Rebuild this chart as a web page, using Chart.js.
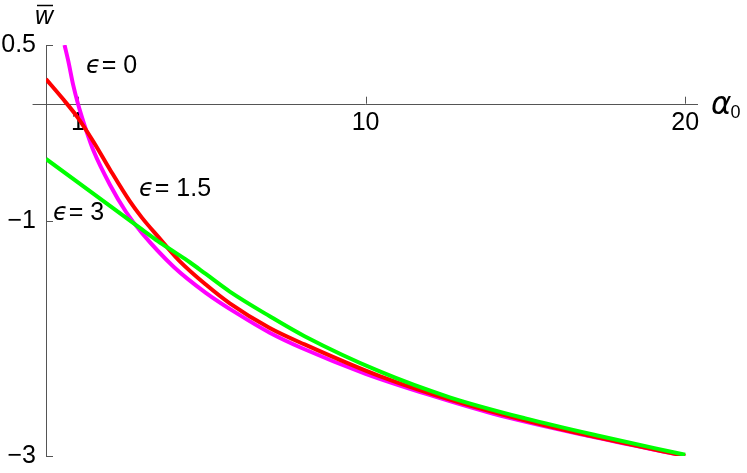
<!DOCTYPE html>
<html>
<head>
<meta charset="utf-8">
<script src="https://cdn.jsdelivr.net/npm/chart.js@4.4.0/dist/chart.umd.min.js"></script>
<style>
  html, body { margin: 0; padding: 0; background: #fff; }
  #wrap { width: 747px; height: 473px; }
</style>
</head>
<body>
<div id="wrap"><canvas id="chart"></canvas></div>
<script>
// tick labels
const xTicks = [1, 10, 20];
const yTicks = [0.5, -1, -3];
const yTickLabels = ['0.5', '\u22121', '\u22123'];

// eps = 0 (magenta)
const alpha0 = [0.58, 0.7, 0.85, 1, 1.25, 1.5, 2, 2.5, 3, 4, 5, 6, 7, 8, 10, 12, 14, 17, 20];
const w0 = [0.50, 0.36, 0.16, 0, -0.22, -0.41, -0.69, -0.92, -1.10, -1.39, -1.61, -1.79, -1.95, -2.08, -2.30, -2.48, -2.64, -2.83, -3.00];

// eps = 1.5 (red)
const alpha15 = [0, 0.5, 1, 1.5, 2, 2.62, 3, 3.5, 4.18, 5, 5.75, 7, 8.09, 10.44, 13, 16, 20];
const w15 = [0.21, 0.05, -0.12, -0.33, -0.56, -0.83, -0.97, -1.13, -1.34, -1.54, -1.70, -1.91, -2.05, -2.32, -2.55, -2.765, -3.00];

// eps = 3 (green)
const alpha3 = [0, 1, 2, 3, 3.5, 4, 4.5, 5, 5.75, 7, 8.09, 10.44, 12.63, 15, 17.32, 20];
const w3 = [-0.47, -0.67, -0.87, -1.07, -1.17, -1.26, -1.35, -1.45, -1.60, -1.81, -1.98, -2.28, -2.50, -2.68, -2.83, -2.99];

const toPts = (xs, ys) => xs.map((x, i) => ({ x: x, y: ys[i] }));

const FONT = '"Liberation Sans", Arial, sans-serif';
const AXIS = '#555';

// axes, ticks and labels drawn Mathematica-style
const axesPlugin = {
  id: 'axes',
  beforeDatasetsDraw(chart) {
    const ctx = chart.ctx;
    const xs = chart.scales.x, ys = chart.scales.y;
    const x0 = xs.getPixelForValue(0);
    const y0 = ys.getPixelForValue(0);
    ctx.save();
    ctx.strokeStyle = AXIS;
    ctx.lineWidth = 1;
    ctx.beginPath();
    // x axis
    ctx.moveTo(xs.getPixelForValue(-0.42), Math.round(y0) + 0.5);
    ctx.lineTo(xs.getPixelForValue(20.4), Math.round(y0) + 0.5);
    // y axis
    ctx.moveTo(Math.round(x0) + 0.5, ys.getPixelForValue(0.5));
    ctx.lineTo(Math.round(x0) + 0.5, ys.getPixelForValue(-3));
    // x ticks (upward)
    xTicks.forEach(v => {
      const px = Math.round(xs.getPixelForValue(v)) + 0.5;
      ctx.moveTo(px, y0);
      ctx.lineTo(px, y0 - 7);
    });
    // y ticks (to the right)
    yTicks.forEach(v => {
      const py = Math.round(ys.getPixelForValue(v)) + 0.5;
      ctx.moveTo(x0, py);
      ctx.lineTo(x0 + 7, py);
    });
    ctx.stroke();

    ctx.fillStyle = '#000';
    ctx.font = '25px ' + FONT;
    ctx.textAlign = 'center';
    ctx.textBaseline = 'middle';
    xTicks.forEach(v => {
      ctx.fillText(String(v), xs.getPixelForValue(v), y0 + 19);
    });
    ctx.textAlign = 'right';
    yTicks.forEach((v, i) => {
      ctx.fillText(yTickLabels[i], x0 - 10, ys.getPixelForValue(v));
    });
    ctx.restore();
  },
  afterDatasetsDraw(chart) {
    const ctx = chart.ctx;
    const ys = chart.scales.y;
    const y0 = ys.getPixelForValue(0);
    ctx.save();
    ctx.fillStyle = '#000';
    ctx.textBaseline = 'alphabetic';
    ctx.textAlign = 'left';

    // axis names
    ctx.font = 'italic 25px ' + FONT;
    ctx.fillText('w', 35, 24);
    ctx.strokeStyle = '#000';
    ctx.lineWidth = 1.5;
    ctx.beginPath();
    ctx.moveTo(37, 5.5);
    ctx.lineTo(53, 5.5);
    ctx.stroke();

    ctx.font = 'italic 31px "DejaVu Sans", ' + FONT;
    ctx.fillText('\u03b1', 711, y0 + 10);
    const aw = ctx.measureText('\u03b1').width;
    ctx.font = '18px ' + FONT;
    ctx.fillText('0', 711 + aw - 1, y0 + 14);

    // curve labels
    const label = (x, y, val) => {
      ctx.font = 'italic 24px "DejaVu Sans", ' + FONT;
      ctx.fillText('\u03f5', x, y);
      const w = ctx.measureText('\u03f5').width;
      ctx.font = '25px ' + FONT;
      ctx.fillText('= ' + val, x + w + 1, y);
    };
    label(86, 73, '0');
    label(139, 196, '1.5');
    label(53, 220, '3');
    ctx.restore();
  }
};

new Chart(document.getElementById('chart'), {
  type: 'scatter',
  data: {
    datasets: [
      {
        label: '\u03f5 = 3',
        data: toPts(alpha3, w3),
        borderColor: '#00ff00',
        order: 0
      },
      {
        label: '\u03f5 = 1.5',
        data: toPts(alpha15, w15),
        borderColor: '#ff0000',
        order: 1
      },
      {
        label: '\u03f5 = 0',
        data: toPts(alpha0, w0),
        borderColor: '#ff00ff',
        order: 2
      }
    ]
  },
  options: {
    responsive: true,
    maintainAspectRatio: false,
    animation: false,
    layout: { padding: { left: 46, right: 49, top: 45, bottom: 17 } },
    datasets: {
      scatter: {
        showLine: true,
        pointRadius: 0,
        borderWidth: 4,
        fill: false,
        cubicInterpolationMode: 'monotone'
      }
    },
    scales: {
      x: { type: 'linear', min: 0, max: 20.4, display: false },
      y: { type: 'linear', min: -3, max: 0.5, display: false }
    },
    plugins: {
      legend: { display: false },
      tooltip: { enabled: false }
    }
  },
  plugins: [axesPlugin]
});
</script>
</body>
</html>
